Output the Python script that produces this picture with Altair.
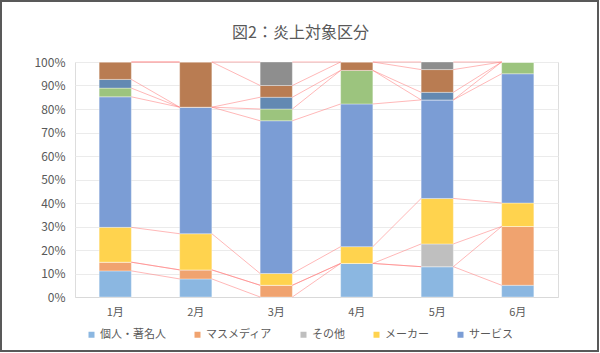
import altair as alt
import pandas as pd

months = ["1月", "2月", "3月", "4月", "5月", "6月"]
series = ["個人・著名人", "マスメディア", "その他", "メーカー", "サービス",
          "系列6", "系列7", "系列8", "系列9"]
legend_series = ["個人・著名人", "マスメディア", "その他", "メーカー", "サービス"]
colors = ["#8BB7E1", "#F0A36F", "#BFBFBF", "#FFD34E", "#7B9DD5",
          "#9CC47E", "#6389B2", "#B97C52", "#8E8E8E"]

# counts per month, one list per series (bottom to top)
kojin   = [3, 2, 0, 4, 4, 1]
masu    = [1, 1, 1, 0, 0, 5]
sonota  = [0, 0, 0, 0, 3, 0]
maker   = [4, 4, 1, 2, 6, 2]
service = [15, 14, 13, 17, 13, 11]
s6      = [1, 0, 1, 4, 0, 1]
s7      = [1, 0, 1, 0, 1, 0]
s8      = [2, 5, 1, 1, 3, 0]
s9      = [0, 0, 2, 0, 1, 0]
values = [kojin, masu, sonota, maker, service, s6, s7, s8, s9]
y_ticks = [0, 0.1, 0.2, 0.3, 0.4, 0.5, 0.6, 0.7, 0.8, 0.9, 1.0]

rows = []
for k, (name, vals) in enumerate(zip(series, values)):
    for m, v in zip(months, vals):
        rows.append({"month": m, "series": name, "k": k, "count": v})
df = pd.DataFrame(rows)

# cumulative top of each series per month (for Excel-style series lines)
totals = [sum(v[i] for v in values) for i in range(len(months))]
cum = {}
for i in range(len(months)):
    acc = 0
    for k in range(len(series)):
        acc += values[k][i]
        cum[(k, i)] = acc / totals[i]
lines = []
for k in range(len(series)):
    for i in range(len(months) - 1):
        lines.append({"from": months[i], "to": months[i + 1],
                      "y1": cum[(k, i)], "y2": cum[(k, i + 1)]})
ldf = pd.DataFrame(lines)

font = "Noto Sans CJK JP"
xscale = alt.Scale(domain=months, paddingInner=0.6, paddingOuter=0.3)
yscale = alt.Scale(domain=[0, 1])
xaxis = alt.Axis(labelAngle=0, ticks=False, domainColor="#D9D9D9",
                 labelColor="#595959", labelFontSize=11, labelPadding=9,
                 labelFont=font, grid=False)
yaxis = alt.Axis(format="%", values=y_ticks, domain=False, ticks=False,
                 gridColor="#EBEBEB", labelColor="#595959", labelFontSize=12,
                 labelPadding=10, labelFont=font, labelOverlap=False)

bars = alt.Chart(df).mark_bar(stroke="white", strokeOpacity=0.35, strokeWidth=1).encode(
    x=alt.X("month:N", scale=xscale, sort=months, title=None, axis=xaxis),
    y=alt.Y("count:Q", stack="normalize", title=None, scale=yscale, axis=yaxis),
    color=alt.Color("series:N", scale=alt.Scale(domain=series, range=colors),
                    legend=alt.Legend(values=legend_series, title=None, orient="none",
                                      direction="horizontal", legendX=11, legendY=267,
                                      symbolType="square", symbolSize=36,
                                      symbolStrokeWidth=0, labelFontSize=11,
                                      labelColor="#595959", labelFont=font,
                                      columnPadding=26, labelOffset=3)),
    order=alt.Order("k:Q", sort="ascending"),
)

serlines = alt.Chart(ldf).mark_rule(color="#FF8080", strokeWidth=0.8, opacity=0.7).encode(
    x=alt.X("from:N", scale=xscale, bandPosition=1, title=None, axis=xaxis),
    x2=alt.X2("to:N", bandPosition=0),
    y=alt.Y("y1:Q", scale=yscale, title=None, axis=yaxis),
    y2=alt.Y2("y2:Q"),
)

border = alt.Chart(pd.DataFrame({"a": [0]})).mark_rect(
    filled=False, stroke="#595959", strokeWidth=2, clip=False
).encode(x=alt.value(-74), x2=alt.value(523), y=alt.value(-61), y2=alt.value(289))

chart = alt.layer(bars, serlines, border).properties(
    width=483, height=235,
    title=alt.Title("図2：炎上対象区分", fontSize=16, color="#595959", font=font,
                    fontWeight="normal", anchor="middle", offset=-41, dx=-16),
    autosize=alt.AutoSizeParams(type="none"),
    padding={"left": 75, "top": 62, "right": 42, "bottom": 56},
).configure_view(stroke=None).configure(background="white")

chart.save("out.html", embed_options={"renderer": "svg", "actions": False})
